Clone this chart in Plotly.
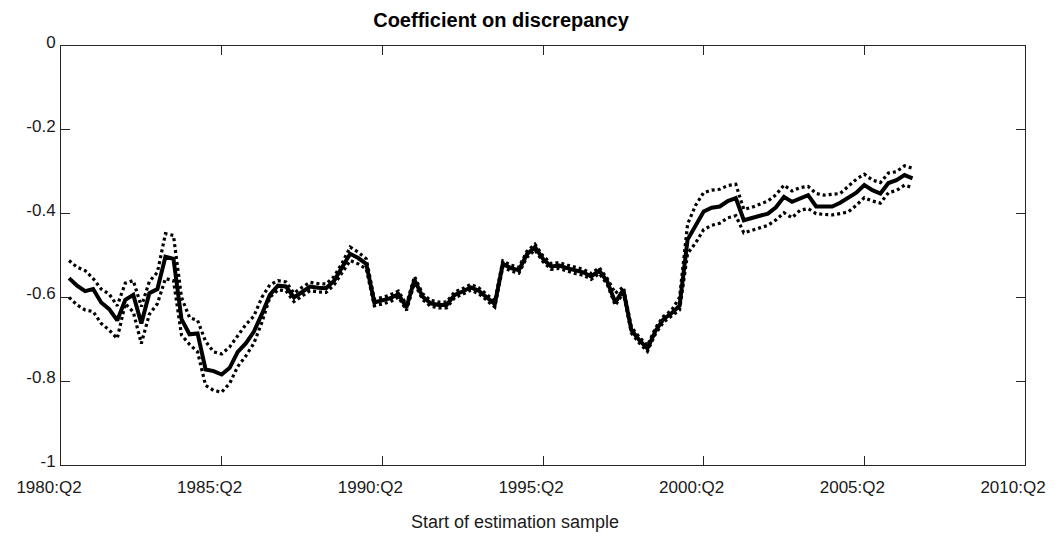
import plotly.graph_objects as go

# Quarterly estimation-sample start dates: 1980:Q3 ... 2006:Q4
first_year, first_q, n_obs = 1980, 3, 106
quarters = []
y, q = first_year, first_q
for _ in range(n_obs):
    quarters.append(f"{y}:Q{q}")
    q += 1
    if q > 4:
        q, y = 1, y + 1

coef = [
    -0.554, -0.572, -0.585, -0.580, -0.612, -0.628, -0.655, -0.606, -0.594, -0.662,
    -0.590, -0.580, -0.503, -0.508, -0.652, -0.688, -0.686, -0.772, -0.776, -0.784,
    -0.768, -0.730, -0.710, -0.682, -0.640, -0.594, -0.572, -0.574, -0.600, -0.586,
    -0.574, -0.577, -0.578, -0.560, -0.530, -0.496, -0.506, -0.520, -0.612, -0.608,
    -0.602, -0.592, -0.624, -0.558, -0.598, -0.614, -0.618, -0.618, -0.594, -0.586,
    -0.576, -0.584, -0.600, -0.616, -0.520, -0.530, -0.535, -0.497, -0.480, -0.508,
    -0.526, -0.524, -0.530, -0.536, -0.540, -0.550, -0.536, -0.562, -0.612, -0.582,
    -0.678, -0.702, -0.722, -0.680, -0.652, -0.638, -0.620, -0.462, -0.430, -0.395,
    -0.386, -0.383, -0.370, -0.363, -0.416, -0.411, -0.404, -0.400, -0.385, -0.360,
    -0.372, -0.365, -0.356, -0.383, -0.383, -0.383, -0.374, -0.362, -0.350, -0.332,
    -0.344, -0.352, -0.327, -0.320, -0.308, -0.316,
]

upper = [
    -0.512, -0.528, -0.536, -0.555, -0.580, -0.592, -0.620, -0.566, -0.560, -0.622,
    -0.562, -0.540, -0.448, -0.452, -0.600, -0.648, -0.655, -0.705, -0.730, -0.735,
    -0.718, -0.690, -0.665, -0.645, -0.600, -0.570, -0.560, -0.563, -0.590, -0.576,
    -0.564, -0.567, -0.568, -0.550, -0.518, -0.480, -0.492, -0.508, -0.604, -0.600,
    -0.594, -0.585, -0.617, -0.550, -0.591, -0.607, -0.611, -0.611, -0.587, -0.579,
    -0.569, -0.577, -0.593, -0.609, -0.513, -0.523, -0.528, -0.490, -0.473, -0.501,
    -0.519, -0.517, -0.523, -0.529, -0.533, -0.543, -0.529, -0.555, -0.590, -0.575,
    -0.671, -0.695, -0.715, -0.673, -0.645, -0.631, -0.600, -0.425, -0.380, -0.350,
    -0.344, -0.342, -0.333, -0.330, -0.390, -0.385, -0.378, -0.370, -0.355, -0.332,
    -0.346, -0.338, -0.335, -0.352, -0.356, -0.354, -0.352, -0.335, -0.318, -0.306,
    -0.320, -0.326, -0.303, -0.300, -0.286, -0.292,
]

lower = [
    -0.600, -0.618, -0.630, -0.634, -0.662, -0.678, -0.698, -0.615, -0.635, -0.710,
    -0.640, -0.615, -0.555, -0.560, -0.690, -0.712, -0.730, -0.810, -0.822, -0.826,
    -0.805, -0.765, -0.740, -0.710, -0.660, -0.600, -0.582, -0.584, -0.610, -0.596,
    -0.584, -0.587, -0.588, -0.570, -0.542, -0.512, -0.520, -0.532, -0.620, -0.616,
    -0.610, -0.599, -0.631, -0.566, -0.605, -0.621, -0.625, -0.625, -0.601, -0.593,
    -0.583, -0.591, -0.607, -0.623, -0.527, -0.537, -0.542, -0.504, -0.487, -0.515,
    -0.533, -0.531, -0.537, -0.543, -0.547, -0.557, -0.543, -0.569, -0.619, -0.589,
    -0.685, -0.709, -0.729, -0.687, -0.659, -0.645, -0.630, -0.495, -0.470, -0.438,
    -0.428, -0.423, -0.410, -0.405, -0.446, -0.440, -0.434, -0.428, -0.415, -0.398,
    -0.410, -0.392, -0.388, -0.400, -0.402, -0.403, -0.400, -0.396, -0.380, -0.362,
    -0.370, -0.375, -0.350, -0.345, -0.332, -0.338,
]

x_tick_labels = ["1980:Q2", "1985:Q2", "1990:Q2", "1995:Q2", "2000:Q2", "2005:Q2", "2010:Q2"]
y_tick_vals = [0, -0.2, -0.4, -0.6, -0.8, -1]
y_tick_labels = ["0", "-0.2", "-0.4", "-0.6", "-0.8", "-1"]


def qpos(label):
    yr, qq = label.split(":Q")
    return int(yr) + (int(qq) - 1) / 4.0


xs = [qpos(s) for s in quarters]
x_tick_vals = [qpos(s) for s in x_tick_labels]

FONT = "Liberation Sans, Arial, Helvetica, sans-serif"
AX = "#262626"
TXT = "#1a1a1a"

fig = go.Figure()
for band in (upper, lower):
    fig.add_trace(go.Scatter(
        x=xs, y=band, mode="lines",
        line=dict(color="black", width=3.2, dash="3px,3px"),
        hoverinfo="skip", showlegend=False,
    ))
fig.add_trace(go.Scatter(
    x=xs, y=coef, mode="lines", customdata=quarters,
    line=dict(color="black", width=4),
    hovertemplate="%{customdata}: %{y:.3f}<extra></extra>", showlegend=False,
))

axis_common = dict(
    showline=True, linecolor=AX, linewidth=1, mirror="ticks",
    ticks="inside", ticklen=9, tickcolor=AX, tickwidth=1,
    showgrid=False, zeroline=False,
    tickfont=dict(family=FONT, size=17, color=TXT),
)

fig.update_layout(
    width=1058, height=537,
    margin=dict(l=61, r=29, t=46, b=72),
    paper_bgcolor="white", plot_bgcolor="white",
    title=dict(text="<b>Coefficient on discrepancy</b>", x=501 / 1058, xref="container",
               xanchor="center", y=1 - 20 / 537, yref="container", yanchor="middle",
               font=dict(family=FONT, size=20, color="black")),
    xaxis=dict(range=[x_tick_vals[0], x_tick_vals[-1]], tickvals=x_tick_vals,
               ticktext=x_tick_labels, ticklabelshift=-12, ticklabelstandoff=7,
               ticklabeloverflow="allow",
               **axis_common),
    yaxis=dict(range=[-1, 0], tickvals=y_tick_vals, ticktext=y_tick_labels,
               ticklabelshift=-4, ticklabelstandoff=1,
               **axis_common),
    annotations=[dict(text="Start of estimation sample", xref="paper", yref="paper",
                      x=(517 - 61) / (1029 - 61), y=-(522 - 465) / (465 - 46),
                      xanchor="center", yanchor="middle", showarrow=False,
                      font=dict(family=FONT, size=18, color=TXT))],
)

fig.write_html("out.html")
